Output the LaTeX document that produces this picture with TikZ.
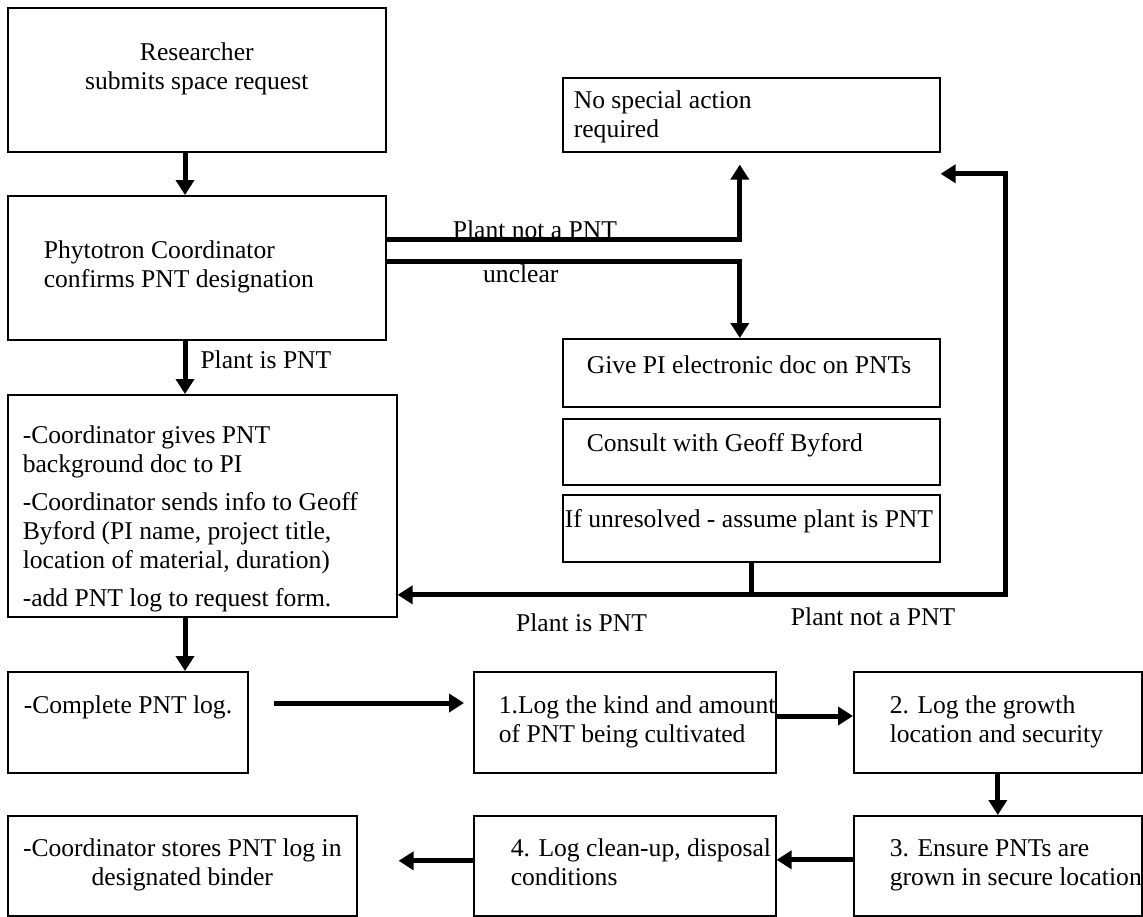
\documentclass[tikz,border=0pt]{standalone}
\usepackage{fontspec}
\setmainfont{Liberation Serif}
\usetikzlibrary{arrows.meta}
\newcommand{\cell}[5]{\parbox[b][#2][t]{#1}{#3\vspace*{#4}\strut #5\par}}
\tikzstyle{box} = [draw, line width=0.8pt, inner sep=0pt, anchor=north west, font=\fontsize{12.8}{14.5}\selectfont]
\tikzstyle{flow} = [-{Triangle[length=7.5pt, width=9pt]}, line width=2.5pt]
\tikzstyle{lbl} = [font=\fontsize{12.8}{14.5}\selectfont, inner sep=0pt]

\begin{document}
\begin{tikzpicture}[x=0.5pt, y=-0.5pt]
    \useasboundingbox (0,0) rectangle (1143,916);

    % Left column
    \node[box] (request) at (7,7) {\cell{189pt}{72pt}{\centering}{16.35pt}{Researcher\\submits space request}};
    \node[box] (coord) at (7,195) {\cell{189pt}{72pt}{\raggedright\leftskip=18pt}{21.35pt}{Phytotron Coordinator\\confirms PNT designation}};
    \node[box] (steps) at (7,394) {\cell{194.5pt}{111pt}{\raggedright\leftskip=7.5pt\parskip=4.5pt}{9.85pt}{-Coordinator gives PNT\\background doc to PI\par
        -Coordinator sends info to Geoff\\Byford (PI name, project title,\\location of material, duration)\par
        -add PNT log to request form.}};
    \node[box] (log) at (7,671) {\cell{120pt}{50.5pt}{\raggedright\leftskip=8pt}{10.85pt}{-Complete PNT log.}};
    \node[box] (binder) at (7,815) {\cell{174.5pt}{50pt}{\centering}{10.35pt}{-Coordinator stores PNT log in\\designated binder}};

    % Log steps
    \node[box] (kind) at (473,671) {\cell{151pt}{50.5pt}{\raggedright\leftskip=12.5pt}{10.85pt}{1.Log the kind and amount\\of PNT being cultivated}};
    \node[box] (growth) at (853,671) {\cell{144pt}{50.5pt}{\raggedright\leftskip=18pt}{10.85pt}{2. Log the growth\\location and security}};
    \node[box] (secure) at (853,815) {\cell{144pt}{50pt}{\raggedright\leftskip=18pt}{10.35pt}{3. Ensure PNTs are\\grown in secure location}};
    \node[box] (cleanup) at (473,815) {\cell{151pt}{50pt}{\raggedright\leftskip=18.5pt}{10.35pt}{4. Log clean-up, disposal\\conditions}};

    % Right column
    \node[box] (noaction) at (562,77) {\cell{188.5pt}{37pt}{\raggedright\leftskip=5.5pt}{5.35pt}{No special action\\required}};
    \node[box] (givepi) at (562,338) {\cell{188.5pt}{34pt}{\raggedright\leftskip=12pt}{7.35pt}{Give PI electronic doc on PNTs}};
    \node[box] (consult) at (562,418) {\cell{188.5pt}{33pt}{\raggedright\leftskip=12pt}{6.35pt}{Consult with Geoff Byford}};
    \node[box] (unresolved) at (562,494) {\cell{188.5pt}{33.5pt}{\raggedright\leftskip=1pt}{6.35pt}{If unresolved - assume plant is PNT}};

    % Connectors
    \coordinate (colL) at (185,0);
    \coordinate (rowA) at (0,716);
    \coordinate (loopR) at (1005,594);
    \draw[flow] (request.south -| colL) -- (coord.north -| colL);
    \draw[flow] (coord.south -| colL) -- node[lbl, right, pos=0.36, xshift=6.5pt] (isPNT) {Plant is PNT} (steps.north -| colL);
    \draw[flow] (steps.south -| colL) -- (log.north -| colL);
    \draw[flow] ([yshift=14pt]coord.east) -| node[lbl, pos=0.21, yshift=5pt] (notPNT) {Plant not a PNT} ([xshift=-5.75pt, yshift=-6pt]noaction.south);
    \draw[flow] ([yshift=3pt]coord.east) -| node[lbl, pos=0.19, yshift=-6pt] (unclear) {unclear} ([xshift=-5.75pt]givepi.north);
    \draw[flow] (unresolved.south) |- node[lbl, pos=0.74, yshift=-14pt] (backPNT) {Plant is PNT} ([yshift=-44.5pt]steps.east);
    \draw[flow] (unresolved.south) |- (loopR) node[lbl, pos=0.74, yshift=-11.5pt] (backNot) {Plant not a PNT} |- ([yshift=-29.5pt]noaction.east);
    \draw[flow] ([shift={(25,32)}]log.north east) -- ([shift={(-9,32)}]kind.north west);
    \draw[flow] (kind.east |- rowA) -- (growth.west |- rowA);
    \draw[flow] (growth.south) -- (secure.north);
    \draw[flow] ([yshift=3pt]secure.west) -- ([yshift=3pt]cleanup.east);
    \draw[flow] ([yshift=2.5pt]cleanup.west) -- ([xshift=20.5pt, yshift=2.5pt]binder.east);
\end{tikzpicture}
\end{document}
